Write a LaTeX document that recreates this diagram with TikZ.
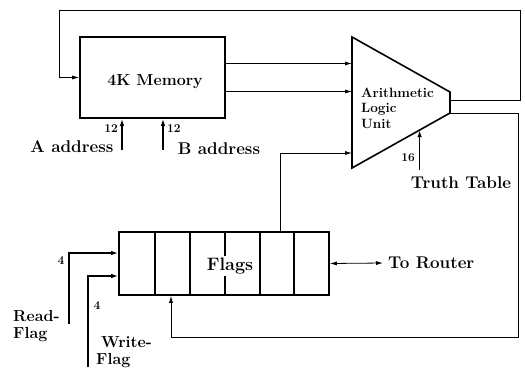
\documentclass[tikz,border=0pt]{standalone}
\usetikzlibrary{arrows.meta,calc}
\begin{document}
\begin{tikzpicture}[x=1pt,y=-1pt,
  box/.style={draw,line width=1.6pt,inner sep=0pt},
  wire/.style={line width=0.8pt},
  arr/.style={wire,-{Latex[length=7pt,width=4pt]}},
  bus/.style={line width=1.6pt,-{Latex[length=7pt,width=4.5pt]}},
  lbl/.style={font=\fontsize{17}{17}\selectfont\bfseries,inner sep=0pt},
  num/.style={font=\fontsize{12}{12}\selectfont\bfseries,inner sep=0pt}]
\useasboundingbox (0,0) rectangle (525,367);
% memory
\node[box,minimum width=145pt,minimum height=81pt] (mem) at (152.5,77.5) {};
\node[inner sep=0pt,font=\fontsize{16}{16}\selectfont\bfseries] (memtxt) at (155,82) {4K Memory};
% ALU
\coordinate (a1) at (352,37);
\coordinate (a2) at (450,92);
\coordinate (a3) at (450,113);
\coordinate (a4) at (352,168);
\draw[line width=1.6pt,line join=miter] (a1)--(a2)--(a3)--(a4)--cycle;
\node[align=left,anchor=west,inner sep=0pt,
      font=\fontsize{13.5}{15.5}\selectfont\bfseries] (alu) at (361,108) {Arithmetic\\Logic\\Unit};
% flags
\node[box,minimum width=210pt,minimum height=63pt] (flags) at (224,263.5) {};
\foreach \x in {155,190,225,260,294}
  \draw[line width=1.2pt] (flags.north -| \x,0) -- (flags.south -| \x,0);
\node[lbl,fill=white,inner sep=2pt,font=\fontsize{18}{18}\selectfont\bfseries] (flagtxt) at (230,266) {Flags};
% coordinates
\coordinate (mo1) at ($(mem.east)+(0,-14)$);
\coordinate (mo2) at ($(mem.east)+(0,14)$);
\coordinate (ai1) at (a1 |- mo1);
\coordinate (ai2) at (a1 |- mo2);
\coordinate (ai3) at (352,153);
\coordinate (fup) at (flags.north -| 280,0);
\coordinate (out1) at (450,100);
\coordinate (out2) at (450,113);
\coordinate (fb) at (flags.south -| 171,0);
% memory -> ALU
\draw[arr] (mo1) -- (ai1);
\draw[arr] (mo2) -- (ai2);
% flags -> ALU
\draw[arr] (fup) |- (ai3);
% ALU feedback to memory
\draw[arr] (out1) -- (520,100) -- (520,10) -- (59,10) |- (mem.west);
% ALU feedback to flags
\draw[arr] (out2) -- (518,113) -- (518,337) -| (fb);
% memory address inputs
\coordinate (asrc) at (122,150);
\coordinate (bsrc) at (163,150);
\draw[bus] (asrc) -- (asrc |- mem.south);
\draw[bus] (bsrc) -- (bsrc |- mem.south);
\node[num,anchor=east] (n12a) at (118,129) {12};
\node[num,anchor=west] (n12b) at (167,129) {12};
\node[lbl] (aaddr) at (72,147) {A address};
\node[lbl] (baddr) at (219,149) {B address};
% truth table
\coordinate (ttin) at ($(a4)!0.69!(a3)$);
\coordinate (ttsrc) at ($(ttin)+(0,40)$);
\draw[bus] (ttsrc) -- (ttin);
\node[num,anchor=east] (n16) at (415,158) {16};
\node[lbl] (tt) at (461,183) {Truth Table};
% router
\coordinate (rt) at (383,263);
\draw[wire,{Latex[length=7pt,width=4pt]}-{Latex[length=7pt,width=4pt]}] (flags.east) -- (rt);
\node[lbl,anchor=west] (router) at (388,263) {To Router};
% read / write flag
\coordinate (rsrc) at (69,324);
\coordinate (wsrc) at (88,367);
\draw[bus] (rsrc) |- (flags.west |- 0,253);
\draw[bus] (wsrc) |- (flags.west |- 0,276);
\node[num] (n4r) at (61,261) {4};
\node[num] (n4w) at (97,306) {4};
\node[lbl,align=left,anchor=west,font=\fontsize{16}{16.5}\selectfont\bfseries] (rf) at (13,326) {Read-\\Flag};
\node[lbl,align=left,anchor=west,font=\fontsize{16}{16.5}\selectfont\bfseries] (wf) at (96,352) {\hspace*{5pt}Write-\\Flag};
\end{tikzpicture}
\end{document}
